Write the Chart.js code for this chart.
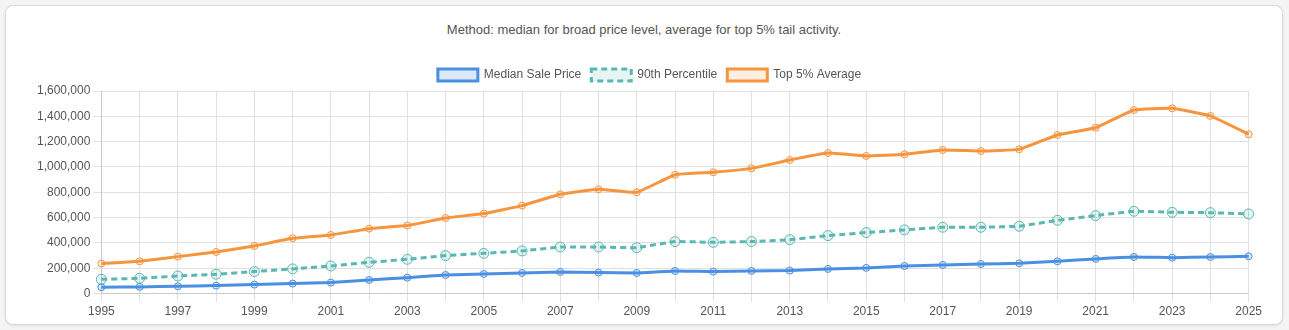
<!DOCTYPE html>
<html>
<head>
<meta charset="utf-8">
<script src="https://cdn.jsdelivr.net/npm/chart.js@4.4.1/dist/chart.umd.min.js"></script>
<style>
  html, body { margin: 0; padding: 0; background: #f4f4f4; }
  body { width: 1289px; height: 330px; overflow: hidden; font-family: "Helvetica Neue", Helvetica, Arial, sans-serif; }
  .card {
    position: absolute; left: 5px; top: 5px; width: 1276px; height: 318px;
    background: #fff; border: 1px solid #d8d8d8; border-radius: 8px;
    box-shadow: 0 1px 3px rgba(0,0,0,0.08);
  }
  .note { position: absolute; left: 0; right: 0; top: 16px; text-align: center; font-size: 13px; color: #555; }
  .wrap { position: absolute; left: 28px; top: 53px; width: 1231px; height: 263px; }
</style>
</head>
<body>
<div class="card">
  <div class="note">Method: median for broad price level, average for top 5% tail activity.</div>
  <div class="wrap"><canvas id="chart"></canvas></div>
</div>
<script>
var years = [];
for (var y = 1995; y <= 2025; y++) years.push(String(y));

var median = [50000, 53000, 58000, 63000, 71000, 79000, 87000, 108000, 126000, 147000,
  155000, 163000, 171000, 166000, 163000, 179000, 174000, 179000, 182000, 195000,
  203000, 218000, 226000, 234000, 239000, 255000, 274000, 289000, 284000, 289000, 295000];

var p90 = [113000, 121000, 139000, 153000, 174000, 195000, 218000, 247000, 271000, 300000,
  318000, 337000, 368000, 368000, 363000, 411000, 405000, 411000, 426000, 458000,
  482000, 503000, 524000, 524000, 532000, 579000, 616000, 650000, 642000, 639000, 629000];

var top5 = [237000, 255000, 292000, 329000, 376000, 437000, 463000, 513000, 537000, 597000,
  632000, 695000, 784000, 824000, 800000, 939000, 958000, 989000, 1055000, 1110000,
  1087000, 1100000, 1134000, 1126000, 1139000, 1253000, 1310000, 1450000, 1463000, 1403000, 1258000];

var ctx = document.getElementById('chart').getContext('2d');
var myChart = new Chart(ctx, {
    type: 'line',
    data: {
        labels: years,
        datasets: [{
            label: 'Median Sale Price',
            data: median,
            borderColor: '#4a90e2',
            backgroundColor: 'rgba(74,144,226,0.2)',
            borderWidth: 3,
            pointRadius: 3.5,
            pointBorderWidth: 1,
            tension: 0.1
        }, {
            label: '90th Percentile',
            data: p90,
            borderColor: '#5ab8b2',
            backgroundColor: 'rgba(90,184,178,0.15)',
            borderWidth: 3,
            borderDash: [6, 4],
            pointRadius: 5,
            pointBorderWidth: 1,
            tension: 0.1
        }, {
            label: 'Top 5% Average',
            data: top5,
            borderColor: '#f5953e',
            backgroundColor: 'rgba(245,149,62,0.15)',
            borderWidth: 3,
            pointRadius: 3.5,
            pointBorderWidth: 1,
            tension: 0.1
        }]
    },
    options: {
        responsive: true,
        maintainAspectRatio: false,
        animation: false,
        plugins: {
            legend: { labels: { color: '#555', font: { size: 12 } } }
        },
        scales: {
            x: {
                ticks: {
                    color: '#555',
                    maxRotation: 0,
                    autoSkip: false,
                    // every other year, grid stays on every year
                    callback: function(value, index) {
                        return index % 2 === 0 ? this.getLabelForValue(value) : '';
                    }
                },
                grid: { color: '#e0e0e0' }
            },
            y: {
                min: 0,
                max: 1600000,
                ticks: {
                    color: '#555',
                    stepSize: 200000,
                    callback: function(value) { return value.toLocaleString('en-US'); }
                },
                grid: { color: '#e0e0e0' }
            }
        }
    }
});
</script>
</body>
</html>
